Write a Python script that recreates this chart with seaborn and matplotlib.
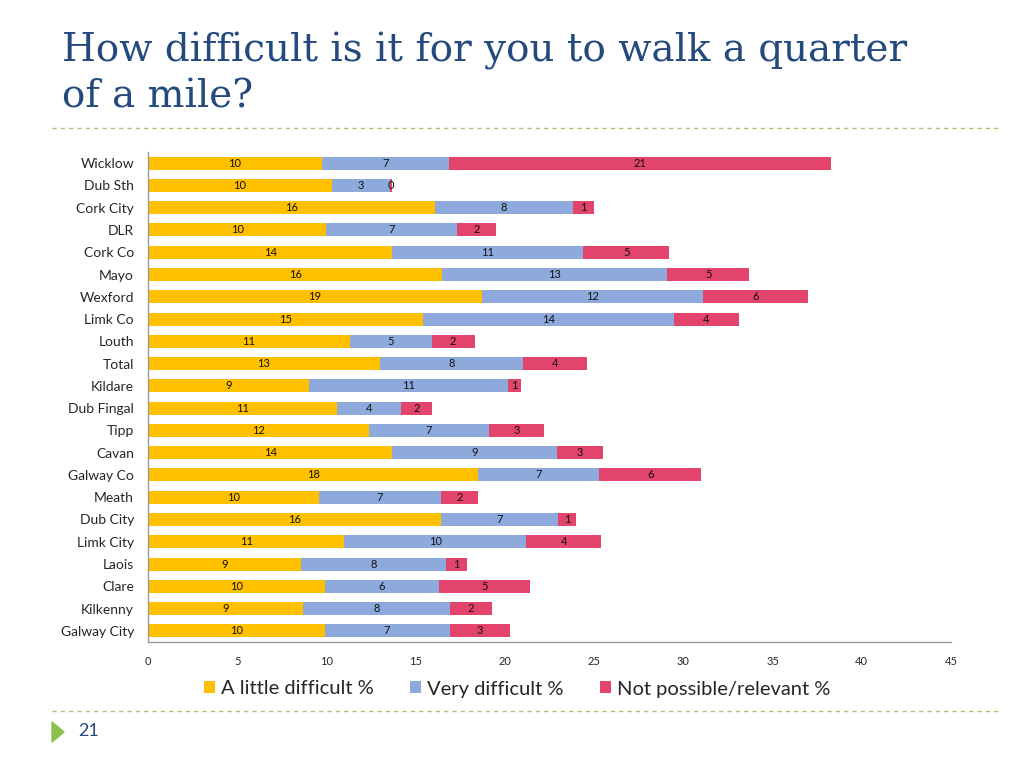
import numpy as np
import pandas as pd
import seaborn as sns
import matplotlib.pyplot as plt
from matplotlib.patches import Patch, Polygon
from matplotlib.lines import Line2D

# Data (segment lengths in %)
areas = ["Wicklow", "Dub Sth", "Cork City", "DLR", "Cork Co", "Mayo", "Wexford",
         "Limk Co", "Louth", "Total", "Kildare", "Dub Fingal", "Tipp", "Cavan",
         "Galway Co", "Meath", "Dub City", "Limk City", "Laois", "Clare",
         "Kilkenny", "Galway City"]
little = [9.75, 10.3, 16.1, 10.0, 13.7, 16.5, 18.7, 15.4, 11.3, 13.0, 9.0, 10.6,
          12.4, 13.7, 18.5, 9.6, 16.4, 11.0, 8.6, 9.9, 8.7, 9.9]
very = [7.1, 3.25, 7.7, 7.3, 10.7, 12.6, 12.4, 14.1, 4.6, 8.0, 11.2, 3.6,
        6.7, 9.2, 6.8, 6.8, 6.6, 10.2, 8.1, 6.4, 8.2, 7.0]
notposs = [21.4, 0.15, 1.2, 2.2, 4.8, 4.6, 5.9, 3.6, 2.4, 3.6, 0.7, 1.7,
           3.1, 2.6, 5.7, 2.1, 1.0, 4.2, 1.2, 5.1, 2.4, 3.4]
series = ["A little difficult %", "Very difficult %", "Not possible/relevant %"]
colors = ["#FFC000", "#8EA9DB", "#E2446C"]

df = pd.DataFrame({"area": areas, "little": little, "very": very, "notposs": notposs})
df["c1"] = df["little"]
df["c2"] = df["c1"] + df["very"]
df["c3"] = df["c2"] + df["notposs"]

sns.set_style("white")
plt.rcParams["font.family"] = ["Lato", "DejaVu Sans"]

fig = plt.figure(figsize=(10.24, 7.68), dpi=100)
ax = fig.add_axes([148 / 1024, 1 - 642 / 768, (951 - 148) / 1024, (642 - 152) / 768])

# stacked bars: draw cumulative totals, longest first
for col, c in zip(["c3", "c2", "c1"], colors[::-1]):
    sns.barplot(data=df, y="area", x=col, order=areas, orient="y", color=c,
                width=0.58, linewidth=0, saturation=1, ax=ax)

# segment labels
for i, row in df.iterrows():
    starts = [0, row["c1"], row["c2"]]
    for s, v in zip(starts, [row["little"], row["very"], row["notposs"]]):
        ax.text(s + v / 2, i, f"{v:.0f}", ha="center", va="center", fontsize=8, color="#111111")

ax.set_xlim(0, 45)
ax.set_xticks(range(0, 46, 5))
ax.set_xlabel("")
ax.set_ylabel("")
ax.tick_params(axis="x", length=0, pad=10, labelsize=8)
ax.tick_params(axis="y", length=0, pad=10, labelsize=10)
for side in ["top", "right"]:
    ax.spines[side].set_visible(False)
for side in ["left", "bottom"]:
    ax.spines[side].set_color("#9a9a9a")
    ax.spines[side].set_linewidth(1)

handles = [Patch(facecolor=c, edgecolor="none") for c in colors]
fig.legend(handles, series, loc="center", bbox_to_anchor=(0.505, 1 - 689 / 768), ncol=3,
           frameon=False, fontsize=14.5, handlelength=0.55, handleheight=0.55,
           handletextpad=0.3, columnspacing=1.8)

# slide decoration
fig.text(62 / 1024, 1 - 32 / 768, "How difficult is it for you to walk a quarter\nof a mile?",
         ha="left", va="top", fontsize=28, color="#24497E",
         family=["DejaVu Serif"], linespacing=1.28)
for y in [128, 711]:
    fig.add_artist(Line2D([52 / 1024, 1000 / 1024], [1 - y / 768, 1 - y / 768],
                          color="#A9C46C", linewidth=1, linestyle=(0, (3, 3))))
fig.add_artist(Polygon([[52 / 1024, 1 - 722 / 768], [52 / 1024, 1 - 742 / 768],
                        [64 / 1024, 1 - 732 / 768]], closed=True, color="#8CC04A"))
fig.text(78 / 1024, 1 - 731 / 768, "21", ha="left", va="center", fontsize=13, color="#24497E")

plt.savefig("out.png", dpi=100)
